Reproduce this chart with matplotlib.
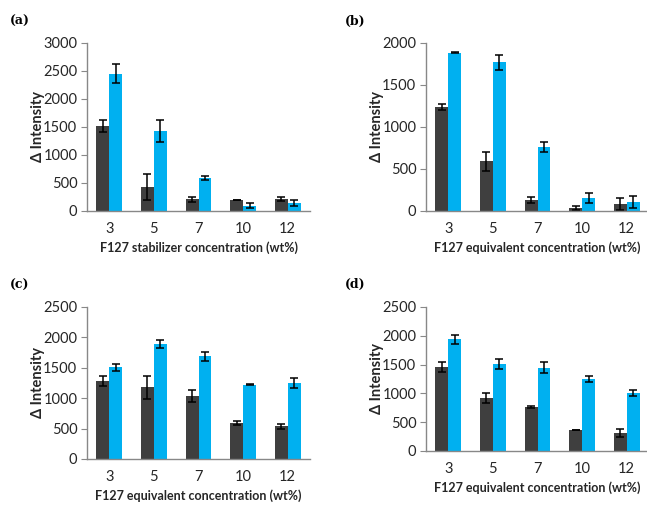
import matplotlib.pyplot as plt
import numpy as np

plt.rcParams['font.family'] = ['Lato', 'DejaVu Sans']

conc = ['3', '5', '7', '10', '12']

# panel (a)
a_dark = [1512, 430, 208, 196, 214]
a_dark_err = [105, 225, 45, 5, 35]
a_blue = [2452, 1430, 589, 95, 143]
a_blue_err = [170, 195, 30, 50, 60]

# panel (b)
b_dark = [1238, 591, 135, 36, 79]
b_dark_err = [40, 117, 35, 22, 70]
b_blue = [1882, 1770, 758, 155, 107]
b_blue_err = [5, 90, 60, 60, 75]

# panel (c)
c_dark = [1280, 1176, 1033, 599, 538]
c_dark_err = [80, 195, 95, 33, 45]
c_blue = [1505, 1896, 1687, 1225, 1247]
c_blue_err = [60, 65, 70, 5, 82]

# panel (d)
d_dark = [1453, 919, 762, 366, 314]
d_dark_err = [85, 88, 18, 5, 75]
d_blue = [1936, 1512, 1448, 1244, 1000]
d_blue_err = [85, 80, 95, 52, 52]

W, H = 647, 505
fig = plt.figure(figsize=(W / 100, H / 100), dpi=100)

# (label, data, left/top/right/bottom in px, ymax, xlabel, label pos)
panels = [
    ('(a)', a_dark, a_dark_err, a_blue, a_blue_err, (87, 43, 310, 211), 3000,
     'F127 stabilizer concentration (wt%)', (10, 21)),
    ('(b)', b_dark, b_dark_err, b_blue, b_blue_err, (426, 43, 649, 211), 2000,
     'F127 equivalent concentration (wt%)', (345, 21)),
    ('(c)', c_dark, c_dark_err, c_blue, c_blue_err, (87, 307, 310, 459), 2500,
     'F127 equivalent concentration (wt%)', (10, 285)),
    ('(d)', d_dark, d_dark_err, d_blue, d_blue_err, (426, 307, 649, 451), 2500,
     'F127 equivalent concentration (wt%)', (345, 284)),
]

dark_col = '#3f3f3f'
blue_col = '#00b0f0'
axis_col = '#888888'
text_col = '#262626'

for lab, dk, dke, bl, ble, (l, t, r, b), ymax, xlab, (lx, ly) in panels:
    ax = fig.add_axes([l / W, 1 - b / H, (r - l) / W, (b - t) / H])
    x = np.arange(len(conc))
    w = 0.29
    ax.bar(x - w / 2, dk, w, color=dark_col, yerr=dke, capsize=3,
           error_kw=dict(elinewidth=1.1, capthick=1.1, ecolor='black'))
    ax.bar(x + w / 2, bl, w, color=blue_col, yerr=ble, capsize=3,
           error_kw=dict(elinewidth=1.1, capthick=1.1, ecolor='black'))
    ax.set_xlim(-0.5, len(conc) - 0.5)
    ax.set_ylim(0, ymax)
    ax.set_yticks(np.arange(0, ymax + 1, 500))
    ax.set_xticks(x)
    ax.set_xticklabels(conc)
    for s in ['top', 'right']:
        ax.spines[s].set_visible(False)
    for s in ['left', 'bottom']:
        ax.spines[s].set_color(axis_col)
        ax.spines[s].set_linewidth(1.0)
    ax.tick_params(axis='y', length=4, color=axis_col, labelsize=10.5,
                   labelcolor=text_col, pad=3)
    ax.tick_params(axis='x', length=0, labelsize=10.5, labelcolor=text_col, pad=8)
    ax.set_ylabel('Δ Intensity', fontsize=10.5, fontweight='bold',
                  color=text_col, labelpad=-1)
    ax.set_xlabel(xlab, fontsize=9, fontweight='bold', color=text_col,
                  labelpad=4)
    fig.text(lx / W, 1 - ly / H, lab, fontsize=9, fontweight='bold',
             family='DejaVu Serif', va='center', ha='left')

fig.savefig('out.png', dpi=100)
